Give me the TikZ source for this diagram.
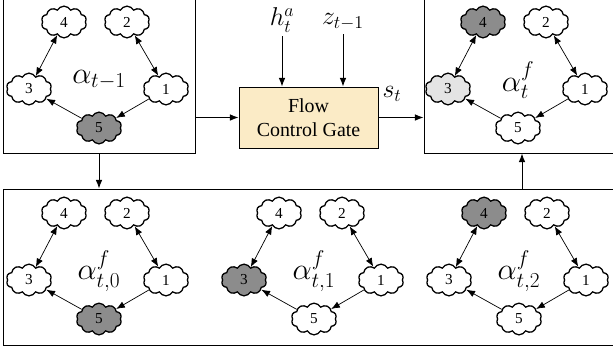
\RequirePackage{fix-cm}
\documentclass[tikz,border=0pt]{standalone}
\usepackage{amsmath}
\usepackage{fontspec}
\setmainfont{Liberation Serif}
\usetikzlibrary{shapes.symbols,arrows.meta}

\definecolor{darkcl}{HTML}{8C8C8C}
\definecolor{lightcl}{HTML}{E4E4E4}
\definecolor{gatecl}{HTML}{FBEBC6}

\begin{document}
\begin{tikzpicture}[x=0.03cm,y=-0.03cm,>={Latex[length=2.6mm,width=2mm]},
    puff/.style={cloud,cloud puffs=10,cloud puff arc=125,aspect=1.4,draw,line width=1.1pt,
      minimum width=1.36cm,minimum height=0.95cm,inner sep=0pt,
      font=\fontsize{13}{15}\selectfont},
    frame/.style={draw,thick,inner sep=0pt}]
    \useasboundingbox (0,0) rectangle (613,354);
    \clip (0,0) rectangle (613,354);
    % Frames
    \node (prevbox) at (99,74) [frame,minimum width=5.76cm,minimum height=4.74cm] {};
    \node (curbox) at (522,74) [frame,minimum width=5.88cm,minimum height=4.74cm] {};
    \node (candbox) at (311.5,267) [frame,minimum width=18.51cm,minimum height=4.68cm] {};
    % Gate
    \node (gate) at (308.5,117.5) [draw,thick,fill=gatecl,minimum width=4.17cm,
      minimum height=1.83cm,align=center,font=\fontsize{17}{20}\selectfont] {Flow\\Control Gate};
    \node (ha) at (282,20) [font=\fontsize{22}{24}\selectfont] {$h^a_t$};
    \node (zt) at (343,22) [font=\fontsize{22}{24}\selectfont] {$z_{t-1}$};
    \node (st) at (392,94) [font=\fontsize{22}{24}\selectfont] {$s_t$};
    \draw[thick,->] (ha) -- (ha |- gate.north);
    \draw[thick,->] (zt) -- (zt |- gate.north);
    \draw[thick,->] (prevbox.east |- gate.west) -- (gate.west);
    \draw[thick,->] (gate.east) -- (gate.east -| curbox.west);
    \draw[thick,->] (prevbox.south) -- (prevbox.south |- candbox.north);
    \draw[thick,->] (curbox.south |- candbox.north) -- (curbox.south);
    % Graphs
    \foreach \g/\x/\y/\fa/\fb/\fc/\lab in
      {tl/64/22/white/white/darkcl/{$\alpha_{t-1}$},
       tr/483/22/darkcl/lightcl/white/{$\alpha^f_t$},
       b0/64/213/white/white/darkcl/{$\alpha^f_{t,0}$},
       b1/279/213/white/darkcl/white/{$\alpha^f_{t,1}$},
       b2/484/213/darkcl/white/white/{$\alpha^f_{t,2}$}} {
      \node (\g-4) at (\x,\y) [puff,fill=\fa] {4};
      \node (\g-2) at (\x+63,\y) [puff,fill=white] {2};
      \node (\g-3) at (\x-35,\y+67) [puff,fill=\fb] {3};
      \node (\g-1) at (\x+102,\y+67) [puff,fill=white] {1};
      \node (\g-5) at (\x+35,\y+106) [puff,fill=\fc] {5};
      \node (\g-lab) at (\x+35,\y+58) [font=\fontsize{26}{28}\selectfont] {\lab};
      \draw[semithick,<->] (\g-4) -- (\g-3);
      \draw[semithick,<->] (\g-2) -- (\g-1);
      \draw[semithick,->] (\g-1) -- (\g-5);
      \draw[semithick,->] (\g-5) -- (\g-3);
    }
\end{tikzpicture}
\end{document}
